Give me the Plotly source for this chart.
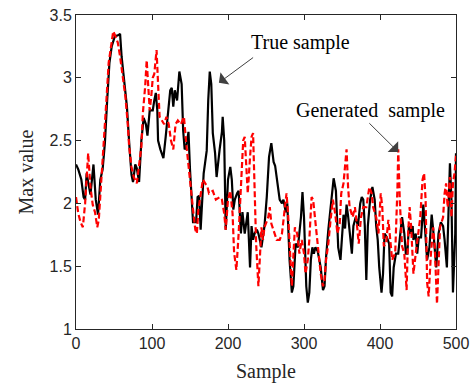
import plotly.graph_objects as go

true_x = [0,3,7,10,12,14,16,19,23,26,29,32,35,38,41,44,47,51,56,58,60,63,67,70,73,75,78,80,83,86,89,92,94,97,101,103,105,107,108,111,115,118,121,124,126,128,130,133,136,139,141,143,145,148,150,152,154,158,160,162,164,168,172,174,176,178,180,183,185,189,192,193,195,197,200,203,205,207,209,212,214,217,219,222,224,226,229,231,233,235,238,240,244,246,248,251,254,257,260,262,265,268,271,273,276,278,281,284,286,289,292,294,296,298,300,303,305,307,309,311,313,315,318,322,325,327,329,332,334,336,339,342,345,348,352,354,356,358,360,363,365,368,371,374,376,378,380,382,384,387,390,393,395,397,399,402,404,406,409,412,414,416,418,421,424,427,429,432,434,436,438,440,443,444,447,449,451,454,457,459,462,465,468,470,474,477,480,483,485,488,490,492,494,496,499,500]
true_y = [2.31,2.27,2.19,2.05,2.03,2.24,2.17,2.07,2.31,2.03,1.91,2.19,2.27,2.48,2.82,3.12,3.25,3.33,3.34,3.35,3.17,2.98,2.77,2.48,2.23,2.17,2.31,2.28,2.17,2.50,2.68,2.63,2.54,2.74,2.74,2.82,2.88,2.74,2.50,2.43,2.36,2.53,2.72,2.90,2.92,2.77,2.90,2.82,3.05,2.95,2.58,2.43,2.45,2.57,2.27,2.03,1.85,1.85,2.05,2.06,1.79,2.24,2.42,2.82,3.05,2.95,2.56,2.40,2.21,2.43,2.57,2.69,2.50,1.79,2.19,2.29,2.19,1.95,2.03,2.08,2.10,1.76,1.93,1.76,1.85,1.93,1.49,1.82,1.71,1.76,1.79,1.76,1.65,1.73,1.82,2.05,2.37,2.48,2.33,2.30,2.16,2.03,2.00,2.03,1.93,2.00,1.55,1.29,1.34,1.68,1.65,1.76,1.89,2.09,1.89,1.34,1.21,1.29,1.55,1.65,1.60,1.65,1.62,1.49,1.31,1.34,1.57,1.79,1.91,2.03,2.20,2.10,1.65,1.55,1.91,1.80,1.99,1.90,1.79,1.60,1.82,1.89,1.82,2.00,2.05,2.03,1.82,1.39,1.82,2.03,2.13,2.03,1.82,1.71,1.49,1.29,1.44,1.76,1.73,1.68,1.29,1.26,1.49,1.60,1.60,1.76,1.89,1.76,1.60,1.60,1.82,1.76,1.82,1.71,1.76,1.60,1.73,1.73,1.99,1.82,1.55,1.65,1.91,1.79,1.49,1.76,1.85,1.82,1.71,1.49,2.03,2.32,2.03,1.29,1.76,2.40]

gen_x = [0,3,6,9,12,14,16,19,22,25,28,30,33,37,40,43,46,49,52,55,58,62,65,68,70,73,76,80,83,86,88,91,93,95,97,99,101,103,106,108,110,113,116,119,122,125,128,131,134,138,142,145,148,150,154,157,159,161,164,167,170,173,175,180,184,189,192,195,197,200,203,206,208,211,214,216,220,222,224,226,229,231,233,235,237,240,242,244,246,248,253,255,257,260,264,268,271,274,277,279,282,284,286,288,291,294,297,300,302,305,307,310,312,314,316,318,322,325,327,329,332,335,338,341,344,347,349,352,354,356,358,360,364,367,370,372,375,378,382,386,389,391,395,398,401,403,405,408,411,413,416,418,420,423,424,426,429,432,435,437,439,441,444,447,450,453,456,458,460,462,464,467,470,472,475,477,479,483,485,487,489,492,494,496,498,500]
gen_y = [2.05,1.92,1.85,1.81,2.00,2.24,2.40,2.13,1.99,1.93,1.81,1.87,2.13,2.50,2.82,3.12,3.25,3.37,3.33,3.28,3.17,3.00,2.85,2.64,2.45,2.29,2.21,2.16,2.29,2.45,2.72,2.93,3.14,2.88,2.74,2.85,3.00,3.03,3.22,2.95,2.69,2.66,2.63,2.69,2.63,2.50,2.43,2.63,2.66,2.63,2.69,2.48,2.29,2.16,1.95,1.79,1.76,1.95,2.08,2.19,2.16,2.13,2.08,2.10,2.03,2.05,2.03,1.92,1.79,2.03,2.10,1.92,1.61,1.47,1.76,2.03,2.50,2.53,2.24,2.08,2.37,2.53,2.56,2.05,1.68,1.34,1.63,1.81,1.71,1.81,1.89,1.97,1.84,1.79,1.71,1.71,1.76,1.92,2.08,1.92,1.49,1.34,1.58,1.81,1.76,1.60,1.71,1.60,1.44,1.55,1.71,2.05,2.03,1.92,1.81,1.68,1.44,1.34,1.39,1.55,1.68,1.87,2.03,1.92,1.76,1.84,2.08,2.16,2.29,2.43,2.13,1.97,1.89,1.97,1.81,1.68,1.89,1.97,1.97,2.13,2.08,1.97,1.89,1.76,2.08,1.97,1.66,1.68,1.87,1.76,1.55,1.58,1.60,2.13,2.43,2.03,1.66,1.60,1.31,1.76,1.97,1.81,1.44,1.60,1.76,1.89,2.19,2.24,2.03,1.37,1.26,1.60,1.81,1.66,1.20,1.49,1.81,1.89,2.08,2.16,1.97,2.21,1.89,2.16,2.24,2.38]

x_ticks = [0, 100, 200, 300, 400, 500]
y_ticks = [1, 1.5, 2, 2.5, 3, 3.5]
y_tick_text = ["1", "1.5", "2", "2.5", "3", "3.5"]

serif = "Liberation Serif, Times New Roman, serif"
sans = "Liberation Sans, Arial, sans-serif"
axis_col = "#262626"

fig = go.Figure()
fig.add_trace(go.Scatter(x=true_x, y=true_y, mode="lines", name="True sample",
                         line=dict(color="black", width=2.2)))
fig.add_trace(go.Scatter(x=gen_x, y=gen_y, mode="lines", name="Generated sample",
                         line=dict(color="#ff0000", width=2.2, dash="6px,3px")))

axis_common = dict(showgrid=False, zeroline=False, showline=True, linecolor=axis_col,
                   linewidth=1, mirror="ticks", ticks="inside", ticklen=5, automargin=False,
                   tickcolor=axis_col, tickfont=dict(family=sans, size=16, color=axis_col))

fig.update_layout(
    width=476, height=384,
    margin=dict(l=76, r=20, t=15, b=55),
    paper_bgcolor="white", plot_bgcolor="white",
    showlegend=False,
    xaxis=dict(range=[0, 500], tickvals=x_ticks,
               title=dict(text="Sample", font=dict(family=serif, size=20, color=axis_col), standoff=12),
               **axis_common),
    yaxis=dict(range=[1, 3.5], tickvals=y_ticks, ticktext=y_tick_text,
               title=dict(text="Max value", font=dict(family=serif, size=20, color=axis_col), standoff=10),
               **axis_common),
    annotations=[
        dict(x=295, y=3.28, xref="x", yref="y", text="True sample", showarrow=False,
             font=dict(family=serif, size=20, color="black")),
        dict(x=188, y=2.96, xref="x", yref="y", ax=235, ay=3.17, axref="x", ayref="y",
             text="", showarrow=True, arrowhead=1, arrowsize=2.5, arrowwidth=1, arrowcolor="#404040"),
        dict(x=387, y=2.74, xref="x", yref="y", text="Generated  sample", showarrow=False,
             font=dict(family=serif, size=20, color="black")),
        dict(x=424, y=2.41, xref="x", yref="y", ax=384, ay=2.65, axref="x", ayref="y",
             text="", showarrow=True, arrowhead=1, arrowsize=2.5, arrowwidth=1, arrowcolor="#404040"),
    ],
)

fig.write_html("out.html")
